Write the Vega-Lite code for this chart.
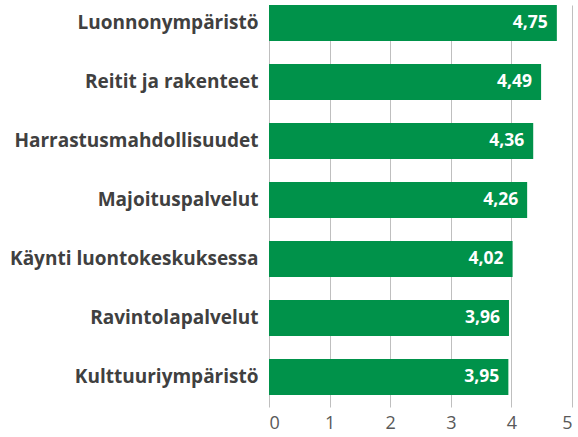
{
  "$schema": "https://vega.github.io/schema/vega-lite/v6.json",
  "autosize": "none",
  "width": 303,
  "height": 402,
  "padding": {"left": 269, "top": 5, "right": 6, "bottom": 30},
  "background": "white",
  "data": {"values": [
    {"kohde": "Luonnonympäristö", "arvo": 4.75, "teksti": "4,75"},
    {"kohde": "Reitit ja rakenteet", "arvo": 4.49, "teksti": "4,49"},
    {"kohde": "Harrastusmahdollisuudet", "arvo": 4.36, "teksti": "4,36"},
    {"kohde": "Majoituspalvelut", "arvo": 4.26, "teksti": "4,26"},
    {"kohde": "Käynti luontokeskuksessa", "arvo": 4.02, "teksti": "4,02"},
    {"kohde": "Ravintolapalvelut", "arvo": 3.96, "teksti": "3,96"},
    {"kohde": "Kulttuuriympäristö", "arvo": 3.95, "teksti": "3,95"}
  ]},
  "encoding": {
    "y": {"field": "kohde", "type": "nominal", "sort": null,
      "scale": {"paddingInner": 0.39, "paddingOuter": 0.102, "align": 0},
      "axis": {"title": null, "domain": false, "ticks": false, "labelPadding": 11,
        "labelFont": "Open Sans", "labelFontWeight": "bold", "labelFontSize": 19,
        "labelColor": "#404040", "labelLimit": 300}},
    "x": {"field": "arvo", "type": "quantitative",
      "scale": {"domain": [0, 5], "nice": false},
      "axis": {"title": null, "values": [0,1,2,3,4,5], "domain": false, "ticks": false,
        "gridColor": "#bfbfbf", "grid": true, "labelFont": "Open Sans",
        "labelFontSize": 18, "labelColor": "#595959", "labelPadding": 7}}
  },
  "layer": [
    {"mark": {"type": "bar", "color": "#00924a"}},
    {"mark": {"type": "text", "align": "right", "dx": -9, "color": "white", "font": "Open Sans",
      "fontWeight": "bold", "fontSize": 17.5, "baseline": "middle"},
      "encoding": {"text": {"field": "teksti"}}}
  ],
  "config": {"view": {"stroke": null}}
}
